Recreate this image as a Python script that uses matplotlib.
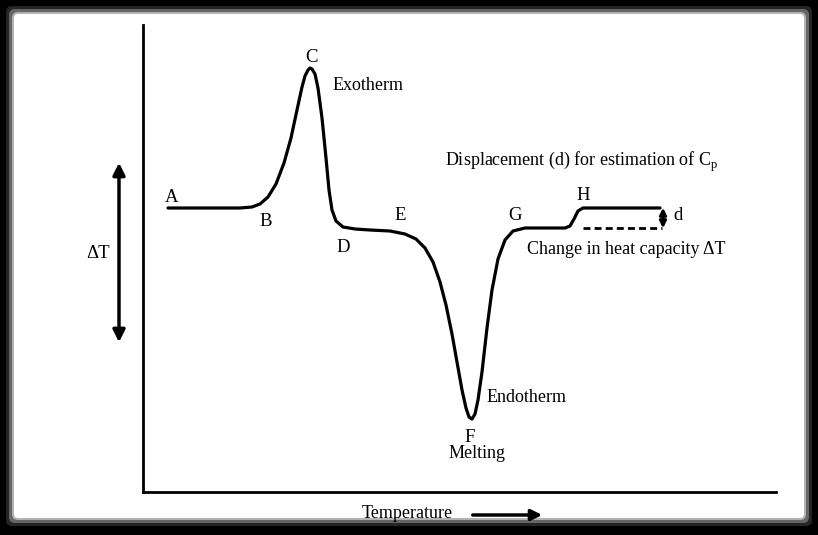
import numpy as np
import matplotlib.pyplot as plt
from matplotlib.patches import FancyBboxPatch

# DSC curve (pixel coordinates, y down)
curve_x = [168, 200, 240, 252, 260, 268, 276, 284, 291, 297, 302, 305, 308, 310, 312, 315, 318, 322, 326,
           329, 332, 336, 343, 355, 370, 390, 405, 416, 425, 433, 440, 446, 452, 457, 462, 466,
           469, 472, 475, 478, 482, 487, 492, 498, 505, 513, 525, 545, 565, 570, 574, 578, 583, 600, 660]
curve_y = [208, 208, 208, 207, 204, 197, 184, 163, 138, 110, 87, 76, 70, 68, 69, 74, 88, 118, 158,
           190, 210, 221, 227, 229, 230, 231, 234, 239, 248, 262, 282, 305, 334, 362, 390, 408,
           417, 419, 414, 400, 372, 328, 290, 259, 240, 231, 228, 228, 228, 226, 219, 211, 208, 208, 208]
labels = ["A", "B", "C", "D", "E", "F", "G", "H"]
label_x = [172, 266, 312, 343, 400, 470, 515, 583]
label_y = [198, 222, 57, 248, 216, 437, 216, 196]

plt.rcParams['font.family'] = ['Liberation Serif', 'DejaVu Serif']
plt.rcParams['mathtext.fontset'] = 'custom'
plt.rcParams['mathtext.rm'] = 'Liberation Serif'
fig = plt.figure(figsize=(8.18, 5.35), dpi=100, facecolor='black')
ax = fig.add_axes([0, 0, 1, 1])
ax.set_xlim(0, 818)
ax.set_ylim(535, 0)
ax.axis('off')
ax.set_facecolor('black')

# white panel with soft grey glow
for pad, a in [(8, 0.15), (5, 0.3), (2, 0.5)]:
    ax.add_patch(FancyBboxPatch((14 - pad, 14 - pad), 790 + 2 * pad, 504 + 2 * pad,
                                boxstyle="round,pad=0,rounding_size=6",
                                fc='white', ec='none', alpha=a))
ax.add_patch(FancyBboxPatch((14, 14), 790, 504, boxstyle="round,pad=0,rounding_size=4",
                            fc='white', ec='none'))

# axes lines
ax.plot([143, 143], [25, 492], color='black', lw=2)
ax.plot([143, 776], [492, 492], color='black', lw=2)

ax.plot(curve_x, curve_y, color='black', lw=2.3, solid_capstyle='round', solid_joinstyle='round')

# baseline shift
ax.plot([583, 662], [228, 228], color='black', lw=2, ls=(0, (2.5, 1.5)))
ax.annotate('', xy=(663, 205), xytext=(663, 231),
            arrowprops=dict(arrowstyle='<|-|>', color='black', lw=2, mutation_scale=10))
ax.text(673, 215, 'd', fontsize=13.5, va='center')

for l, x, y in zip(labels, label_x, label_y):
    ax.text(x, y, l, fontsize=13.5, ha='center', va='center')

ax.text(333, 85, 'Exotherm', fontsize=13, va='center')
ax.text(445, 162, 'Displacement (d) for estimation of C$_\\mathrm{p}$', fontsize=13, va='center')
ax.text(527, 250, 'Change in heat capacity \u0394T', fontsize=13, va='center')
ax.text(487, 397, 'Endotherm', fontsize=13, va='center')
ax.text(477, 454, 'Melting', fontsize=13, ha='center', va='center')
ax.text(86, 253, '\u0394T', fontsize=13.5, va='center')
ax.text(362, 514, 'Temperature', fontsize=13, va='center')

# arrows
ax.annotate('', xy=(119, 160), xytext=(119, 345),
            arrowprops=dict(arrowstyle='<|-|>', color='black', lw=2.5, mutation_scale=18))
ax.annotate('', xy=(545, 515), xytext=(470, 515),
            arrowprops=dict(arrowstyle='-|>', color='black', lw=2.5, mutation_scale=16))

fig.savefig('out.png', dpi=100, facecolor='black')
